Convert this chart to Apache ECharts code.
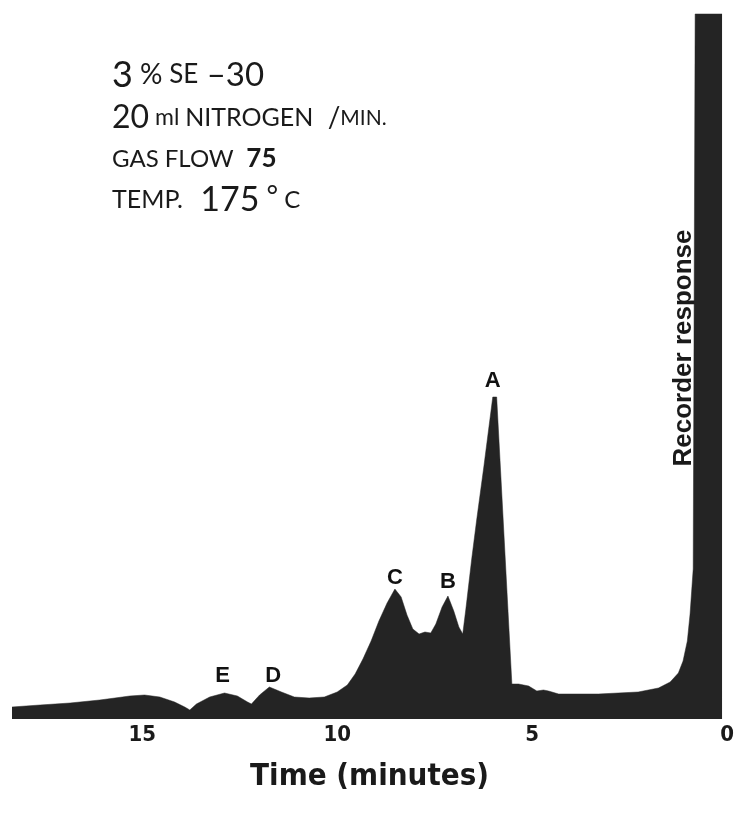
<!DOCTYPE html>
<html>
<head>
<meta charset="utf-8">
<script src="https://cdn.jsdelivr.net/npm/echarts@6/dist/echarts.min.js"></script>
<style>
html,body{margin:0;padding:0;background:#fff;}
#chart{width:737px;height:815px;}
</style>
</head>
<body>
<div id="chart"></div>
<script>
// Time (minutes) of each traced point, left (late) to right (injection)
var times = [18.34,17.62,16.85,16.09,15.70,15.32,14.94,14.55,14.17,13.91,13.78,13.61,13.27,12.89,12.56,12.30,12.20,11.99,11.74,11.43,11.10,10.72,10.33,10.00,9.74,9.54,9.34,9.13,8.93,8.72,8.52,8.36,8.21,8.06,7.90,7.75,7.60,7.47,7.31,7.16,7.01,6.88,6.78,6.70,6.55,6.42,6.24,6.01,5.91,5.52,5.35,5.09,4.88,4.71,4.58,4.32,3.30,2.28,1.76,1.46,1.25,1.13,1.02,0.95,0.87,0.82,0.13];
// Recorder response (arbitrary units)
var response = [12,14,16,19,21,23,24,22,17,12,9,15,22,26,23,17,15,24,32,27,22,21,22,27,34,45,60,78,98,116,130,122,104,90,85,87,86,95,112,123,108,92,85,110,160,200,252,322,322,35,35,33,28,29,28,25,25,27,31,37,46,58,78,105,150,705,705];
var tickLabels = [0,5,10,15];
var peakNames = ['A','B','C','D','E'];
var peakLabelTimes = [6.01,7.16,8.52,11.64,12.94];
var peakLabelLevels = [338,137,141,43,43];

var chart = echarts.init(document.getElementById('chart'), null, {renderer:'canvas'});
var curve = times.map(function(t,i){return [t,response[i]];});
var peaks = peakNames.map(function(n,i){return {name:n,value:[peakLabelTimes[i],peakLabelLevels[i]]};});
var ink = '#242424';
var narrow = '"Liberation Sans Narrow","DejaVu Sans Condensed",sans-serif';
chart.setOption({
  animation:false,
  backgroundColor:'#ffffff',
  grid:{left:12,right:8,top:13,bottom:96},
  xAxis:{
    type:'value',inverse:true,min:0,max:18.34,interval:5,
    axisLine:{show:false},axisTick:{show:false},splitLine:{show:false},
    axisLabel:{
      margin:5,color:'#1a1a1a',fontSize:22,fontWeight:'bold',fontFamily:narrow,
      formatter:function(v){return tickLabels.indexOf(v)>=0?String(v):'';}
    },
    name:'Time (minutes)',nameLocation:'middle',nameGap:42,
    nameTextStyle:{color:'#1a1a1a',fontSize:31,fontWeight:'bold',fontFamily:narrow}
  },
  yAxis:{
    type:'value',min:0,max:706,show:false
  },
  series:[
    {type:'line',data:curve,showSymbol:false,smooth:false,
     lineStyle:{width:0.5,color:ink},areaStyle:{color:ink,opacity:1},silent:true,z:2},
    {type:'scatter',data:peaks,symbolSize:0,itemStyle:{color:'#1a1a1a',opacity:1},silent:true,z:3,
     label:{show:true,position:'inside',formatter:'{b}',color:'#111111',opacity:1,fontSize:22,fontWeight:'bold',
       textBorderWidth:0,textBorderColor:'transparent',
       fontFamily:'"Liberation Sans",Arial,sans-serif'}}
  ],
  graphic:[
    {type:'text',x:684,y:348,rotation:Math.PI/2,style:{text:'Recorder response',fill:'#1a1a1a',
      font:'bold 26px "Liberation Sans", Arial, sans-serif',align:'center',verticalAlign:'middle'}},
    {type:'text',left:112,top:57,style:{text:'{a|3}{b| %}{c| SE}{d| –30}',rich:{
      a:{fontSize:36,fontFamily:'Lato',fill:'#1a1a1a'},b:{fontSize:28,fontFamily:'Lato',fill:'#1a1a1a'},
      c:{fontSize:26,fontFamily:'Lato',fill:'#1a1a1a'},d:{fontSize:33,fontFamily:'Lato',fill:'#1a1a1a'}}}},
    {type:'text',left:112,top:102,style:{text:'{a|20}{b| ml }{c|NITROGEN}{d|  /}{e|MIN.}',rich:{
      a:{fontSize:32,fontFamily:'Lato',fill:'#1a1a1a'},b:{fontSize:23,fontFamily:'Lato',fill:'#1a1a1a'},
      c:{fontSize:25,fontFamily:'Lato',fill:'#1a1a1a'},d:{fontSize:28,fontFamily:'Lato',fill:'#1a1a1a'},
      e:{fontSize:21,fontFamily:'Lato',fill:'#1a1a1a'}}}},
    {type:'text',left:112,top:146,style:{text:'{a|GAS FLOW}{b|  75}',rich:{
      a:{fontSize:24,fontFamily:'Lato',fill:'#1a1a1a'},b:{fontSize:26,fontFamily:'Lato',fontWeight:'bold',fill:'#1a1a1a'}}}},
    {type:'text',left:112,top:183,style:{text:'{a|TEMP.}{b|  175}{c| °}{d| C}',rich:{
      a:{fontSize:25,fontFamily:'Lato',fill:'#1a1a1a'},b:{fontSize:34,fontFamily:'Lato',fill:'#1a1a1a'},
      c:{fontSize:28,fontFamily:'Lato',fill:'#1a1a1a',verticalAlign:'top'},d:{fontSize:24,fontFamily:'Lato',fill:'#1a1a1a'}}}}
  ]
});
</script>
</body>
</html>
